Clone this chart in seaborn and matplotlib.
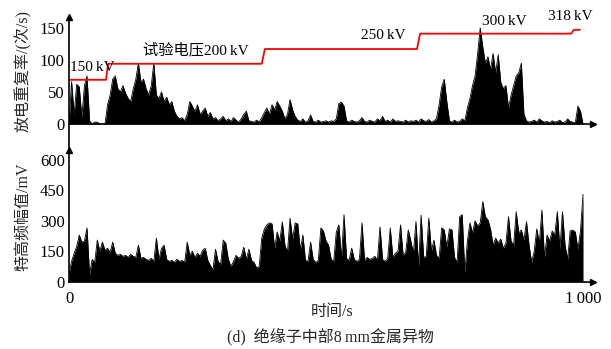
import numpy as np
import pandas as pd
import matplotlib
matplotlib.use("Agg")
import matplotlib.pyplot as plt
import seaborn as sns
from matplotlib.lines import Line2D

# time axis, one reading every 5 s
time_s = list(range(0, 1001, 5))

# discharge repetition rate (times/s)
rate = [
    0, 66, 15, 62, 58, 10, 60, 75, 5, 0, 3, 3, 0, 0, 0, 30, 45, 70, 75, 55,
    50, 60, 48, 40, 35, 55, 70, 95, 65, 70, 55, 45, 60, 95, 45, 40, 50, 35, 42, 30,
    35, 20, 12, 8, 10, 5, 15, 35, 28, 20, 30, 15, 20, 25, 12, 18, 8, 10, 5, 8,
    12, 5, 8, 4, 10, 6, 3, 8, 15, 20, 5, 4, 3, 6, 3, 10, 18, 25, 15, 30,
    22, 35, 28, 20, 8, 15, 38, 22, 12, 6, 4, 8, 3, 5, 14, 4, 3, 6, 3, 4,
    5, 3, 5, 4, 8, 32, 34, 28, 5, 3, 6, 4, 3, 5, 10, 4, 3, 6, 4, 3,
    8, 5, 12, 4, 6, 3, 8, 4, 5, 4, 3, 6, 3, 5, 4, 6, 3, 8, 5, 4,
    7, 3, 5, 8, 30, 58, 70, 35, 5, 3, 6, 3, 4, 8, 5, 25, 40, 60, 75, 110,
    150, 120, 95, 105, 85, 110, 80, 108, 65, 55, 60, 25, 45, 60, 75, 80, 95, 15, 5, 3,
    4, 6, 3, 8, 5, 3, 4, 2, 5, 3, 4, 6, 2, 3, 8, 4, 3, 2, 28, 20,
    0,
]

# UHF amplitude (mV)
uhf = [
    40, 100, 140, 175, 230, 195, 200, 265, 35, 110, 95, 205, 150, 195, 155, 165, 145, 195, 140, 130,
    135, 125, 130, 120, 135, 125, 120, 180, 115, 120, 110, 105, 115, 100, 215, 110, 165, 180, 110, 100,
    105, 95, 110, 100, 105, 95, 195, 130, 150, 120, 140, 125, 155, 165, 105, 80, 58, 160, 100, 85,
    205, 190, 110, 75, 100, 130, 115, 125, 170, 110, 160, 105, 95, 68, 75, 215, 260, 280, 290, 285,
    165, 245, 200, 295, 180, 145, 313, 210, 290, 285, 155, 230, 105, 100, 195, 110, 95, 105, 265, 250,
    200, 180, 110, 100, 245, 280, 115, 330, 115, 105, 165, 110, 100, 110, 290, 105, 120, 110, 115, 125,
    105, 270, 110, 100, 115, 265, 120, 140, 150, 280, 130, 145, 255, 200, 140, 296, 74, 328, 120, 125,
    313, 150, 205, 130, 115, 265, 255, 170, 260, 255, 120, 95, 320, 330, 43, 200, 290, 240, 300, 275,
    290, 395, 320, 305, 260, 180, 215, 190, 210, 165, 190, 320, 200, 180, 345, 240, 255, 205, 296, 180,
    95, 150, 260, 190, 353, 117, 230, 200, 250, 230, 345, 160, 345, 180, 110, 250, 255, 245, 160, 250,
    430,
]

# red test-voltage trace as drawn on the rate axis
volt_t = [0, 72, 76, 375, 381, 677, 683, 977, 982, 994]
volt_y = [69, 69, 94, 94, 117, 117, 141, 141, 147, 147]
volt_labels = ["150\u2009kV", "试验电压200\u2009kV", "250\u2009kV", "300\u2009kV", "318\u2009kV"]
volt_label_t = [2, 144, 568, 803, 932]
volt_label_y = [88, 116, 138, 160, 168]

assert len(rate) == len(time_s) and len(uhf) == len(time_s)

df = pd.DataFrame({"t": time_s, "rate": rate, "uhf": uhf})
volt = pd.DataFrame({"t": volt_t, "v": volt_y})

sns.set_style("white")
plt.rcParams["font.family"] = ["Liberation Serif", "Noto Sans CJK SC", "DejaVu Sans"]
plt.rcParams["axes.linewidth"] = 1.2

W, H = 611, 349
fig = plt.figure(figsize=(W / 100, H / 100), dpi=100)

def box(x0, y_top, x1, y_bot):
    return [x0 / W, 1 - y_bot / H, (x1 - x0) / W, (y_bot - y_top) / H]

ax1 = fig.add_axes(box(69, 17, 593.3, 124))
ax2 = fig.add_axes(box(69, 150, 593.3, 281.7))

for ax in (ax1, ax2):
    ax.spines["top"].set_visible(False)
    ax.spines["right"].set_visible(False)
    ax.spines["left"].set_color("black")
    ax.spines["bottom"].set_color("black")
    ax.set_xlim(0, 1020)
    ax.tick_params(axis="y", direction="in", length=5, width=1, pad=3,
                   labelsize=12, colors="black")
    ax.tick_params(axis="x", length=0, labelsize=12, pad=7, colors="black")
    ax.set_xlabel("")
    ax.set_ylabel("")
    # arrow heads
    ax.plot(1, 0, ">k", transform=ax.transAxes, clip_on=False, ms=4)
    ax.plot(0, 1, "^k", transform=ax.transAxes, clip_on=False, ms=4)

# top: discharge rate
ax1.fill_between(df["t"], 0, df["rate"], color="black", lw=0)
sns.lineplot(data=df, x="t", y="rate", ax=ax1, color="black", lw=0.6)
sns.lineplot(data=volt, x="t", y="v", ax=ax1, color="#ff0000", lw=1.3)
for lab, lt, ly in zip(volt_labels, volt_label_t, volt_label_y):
    ax1.text(lt, ly, lab, fontsize=11, ha="left", va="center", color="black")
ax1.set_ylim(0, 167)
ax1.set_yticks([0, 50, 100, 150])
ax1.set_xticks([])
ax1.set_xlabel("")
ax1.set_ylabel("")

# bottom: UHF amplitude
ax2.fill_between(df["t"], 0, df["uhf"], color="black", lw=0)
sns.lineplot(data=df, x="t", y="uhf", ax=ax2, color="black", lw=0.6)
ax2.set_ylim(0, 649)
ax2.set_yticks([0, 150, 300, 450, 600])
ax2.set_xticks([0, 1000])
ax2.set_xticklabels(["0", "1\u2009000"])
ax2.set_xlabel("")
ax2.set_ylabel("")

# continuous left axis across the gap
fig.add_artist(Line2D([69 / W, 69 / W], [1 - 150 / H, 1 - 124 / H],
                      transform=fig.transFigure, color="black", lw=1.2))

fig.text(23 / W, 1 - 71 / H, "放电重复率/(次/s)", rotation=90, ha="center",
         va="center", fontsize=11.5)
fig.text(23 / W, 1 - 217 / H, "特高频幅值/mV", rotation=90, ha="center",
         va="center", fontsize=11.5)
fig.text(332 / W, 1 - 312 / H, "时间/s", ha="center", va="center", fontsize=11.5)
fig.text(330 / W, 1 - 337 / H, "(d)  绝缘子中部8\u2009mm金属异物", ha="center",
         va="center", fontsize=11.5)

fig.savefig("out.png", dpi=100)
